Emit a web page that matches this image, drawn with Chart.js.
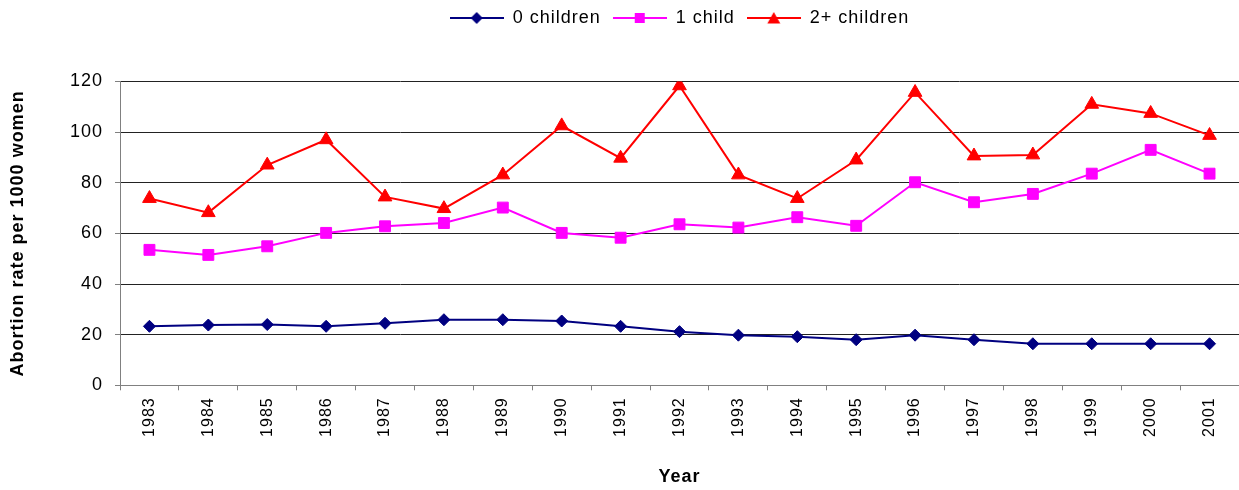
<!DOCTYPE html>
<html>
<head>
<meta charset="utf-8">
<title>Abortion rate by number of children</title>
<script src="https://cdn.jsdelivr.net/npm/chart.js@4/dist/chart.umd.min.js"></script>
<style>
    html, body { margin: 0; padding: 0; background: #ffffff; }
    #chart { display: block; }
</style>
</head>
<body>
<canvas id="chart" width="1239" height="490"></canvas>
<script>
const years = ["1983", "1984", "1985", "1986", "1987", "1988", "1989", "1990", "1991", "1992",
    "1993", "1994", "1995", "1996", "1997", "1998", "1999", "2000", "2001"];

const noChildren = [23.3, 23.8, 24, 23.3, 24.5, 25.9, 25.9, 25.4, 23.3, 21.2,
    19.8, 19.2, 18, 19.8, 18, 16.4, 16.4, 16.4, 16.4];
const oneChild = [53.5, 51.5, 54.9, 60.2, 62.8, 64.1, 70.2, 60.2, 58.3, 63.6,
    62.3, 66.4, 63, 80.2, 72.3, 75.6, 83.6, 93, 83.6];
const twoPlus = [73.8, 68.2, 87, 97, 74.4, 69.8, 83.1, 102.5, 89.7, 118.3,
    83.1, 73.8, 89, 115.7, 90.6, 91, 111, 107.4, 98.7];

const seriesNames = ["0 children", "1 child", "2+ children"];
const yTicks = [0, 20, 40, 60, 80, 100, 120];

const FONT = "'Liberation Sans', Arial, sans-serif";
const NAVY = "#000080";
const MAGENTA = "#ff00ff";
const RED = "#ff0000";
const AXIS_GREY = "#808080";

// small legend swatch: a line with the series marker in its middle
function legendIcon(color, shape) {
    const c = document.createElement("canvas");
    c.width = 54;
    c.height = 16;
    const g = c.getContext("2d");
    g.strokeStyle = color;
    g.fillStyle = color;
    g.lineWidth = 2;
    g.beginPath();
    g.moveTo(0, 8);
    g.lineTo(54, 8);
    g.stroke();
    g.beginPath();
    if (shape === "diamond") {
        g.moveTo(27, 2); g.lineTo(33, 8); g.lineTo(27, 14); g.lineTo(21, 8);
    } else if (shape === "square") {
        g.rect(22, 3, 10, 10);
    } else {
        g.moveTo(27, 2); g.lineTo(33.5, 13.5); g.lineTo(20.5, 13.5);
    }
    g.closePath();
    g.fill();
    return c;
}

const icons = [legendIcon(NAVY, "diamond"), legendIcon(MAGENTA, "square"), legendIcon(RED, "triangle")];

// the text in this chart is slightly spread out
const letterSpacing = {
    id: "letterSpacing",
    beforeUpdate(chart) { chart.ctx.letterSpacing = "1px"; },
    beforeDraw(chart) { chart.ctx.letterSpacing = "1px"; }
};

// keep the legend centred over the plot but pinned to the top edge
const legendAtTop = {
    id: "legendAtTop",
    afterLayout(chart) {
        const legend = chart.legend;
        if (!legend) return;
        const h = legend.height;
        legend.top = -3;
        legend.bottom = legend.top + h;
    }
};

const whiteBackground = {
    id: "whiteBackground",
    beforeDraw(chart) {
        const ctx = chart.ctx;
        ctx.save();
        ctx.fillStyle = "#ffffff";
        ctx.fillRect(0, 0, chart.width, chart.height);
        ctx.restore();
    }
};

function makeDataset(label, data, color, pointStyle, radius) {
    return {
        label: label,
        data: data,
        borderColor: color,
        backgroundColor: color,
        borderWidth: 2,
        pointStyle: pointStyle,
        pointRadius: radius,
        pointHoverRadius: radius,
        pointBackgroundColor: color,
        pointBorderColor: color,
        pointBorderWidth: 1,
        tension: 0,
        fill: false
    };
}

new Chart(document.getElementById("chart"), {
    type: "line",
    data: {
        labels: years,
        datasets: [
            makeDataset(seriesNames[0], noChildren, NAVY, "rectRot", 6),
            makeDataset(seriesNames[1], oneChild, MAGENTA, "rect", 7.7),
            makeDataset(seriesNames[2], twoPlus, RED, "triangle", 7.9)
        ]
    },
    options: {
        responsive: false,
        animation: false,
        devicePixelRatio: 1,
        layout: { padding: 0, autoPadding: false },
        plugins: {
            tooltip: { enabled: false },
            legend: {
                position: "top",
                fullSize: false,
                labels: {
                    usePointStyle: true,
                    pointStyleWidth: 54,
                    padding: 12,
                    color: "#000000",
                    font: { family: FONT, size: 18 },
                    generateLabels: (chart) => chart.data.datasets.map((ds, i) => ({
                        text: ds.label,
                        pointStyle: icons[i],
                        fillStyle: ds.borderColor,
                        strokeStyle: ds.borderColor,
                        lineWidth: 0,
                        hidden: false,
                        datasetIndex: i
                    }))
                }
            }
        },
        scales: {
            x: {
                offset: true,
                grid: {
                    offset: true,
                    drawOnChartArea: false,
                    drawTicks: true,
                    tickLength: 5,
                    tickColor: AXIS_GREY
                },
                border: { display: true, color: AXIS_GREY, width: 1 },
                ticks: {
                    minRotation: 90,
                    maxRotation: 90,
                    autoSkip: false,
                    padding: 7,
                    color: "#000000",
                    font: { family: FONT, size: 16 }
                },
                title: {
                    display: true,
                    text: "Year",
                    color: "#000000",
                    font: { family: FONT, size: 18, weight: "bold" },
                    padding: { top: 0, bottom: 2 }
                },
                afterFit(scale) {
                    scale.height = 104.7;
                    scale.paddingLeft = 0;
                    scale.paddingRight = 0;
                }
            },
            y: {
                min: 0,
                max: 120,
                afterBuildTicks(scale) {
                    scale.ticks = yTicks.map((v) => ({ value: v }));
                },
                grid: {
                    color: "#222222",
                    lineWidth: 1,
                    drawTicks: true,
                    tickLength: 5,
                    tickColor: AXIS_GREY
                },
                border: { display: true, color: AXIS_GREY, width: 1 },
                ticks: {
                    padding: 12,
                    color: "#000000",
                    font: { family: FONT, size: 18 }
                },
                title: {
                    display: true,
                    text: "Abortion rate per 1000 women",
                    color: "#000000",
                    font: { family: FONT, size: 18, weight: "bold" },
                    padding: { top: 7, bottom: 0 }
                },
                afterFit(scale) {
                    scale.width = 120;
                    scale.paddingTop = 81.5;
                }
            }
        }
    },
    plugins: [letterSpacing, legendAtTop, whiteBackground]
});
</script>
</body>
</html>
